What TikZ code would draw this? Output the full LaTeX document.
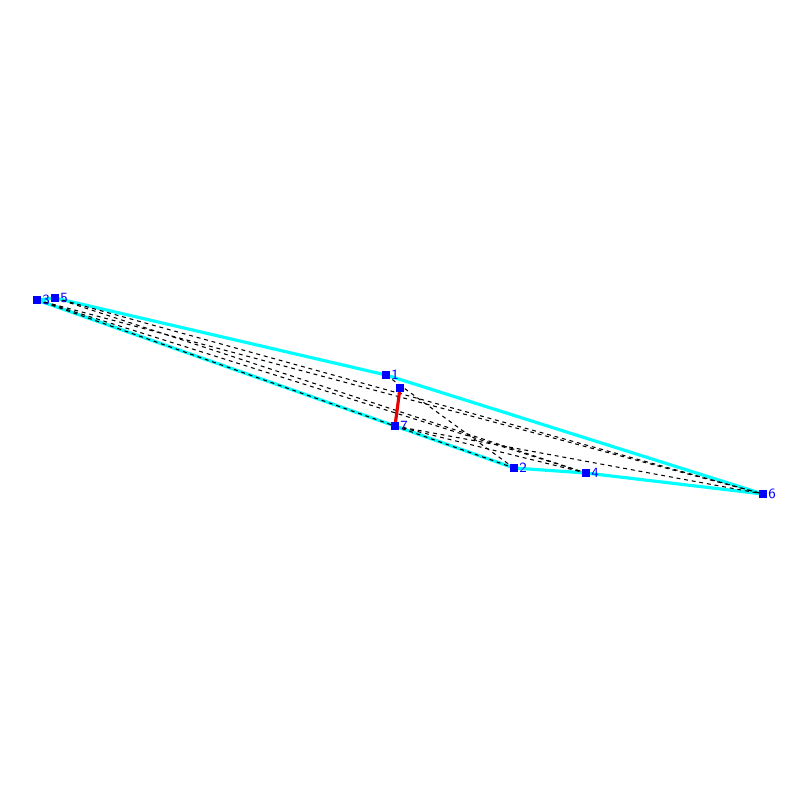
\documentclass[tikz,border=0pt]{standalone}
\usetikzlibrary{positioning,backgrounds}
\definecolor{hullColor}{RGB}{0,255,255}
\definecolor{ptColor}{RGB}{0,0,255}
\definecolor{constrColor}{RGB}{230,0,0}
\tikzset{
	vtx/.style={fill=ptColor, draw=none, minimum size=2pt, inner sep=0pt, outer sep=0pt},
	lab/.style={text=ptColor, font=\fontsize{4}{4}\selectfont\sffamily, inner sep=0.3pt, anchor=west},
	hull/.style={hullColor, line width=0.9pt},
	constr/.style={constrColor, line width=0.9pt},
	chord/.style={black, line width=0.3pt, dash pattern=on 1.1pt off 1.1pt}
}
\begin{document}
\begin{tikzpicture}[x=0.01cm, y=-0.01cm]
	\useasboundingbox (0,0) rectangle (800,800);
	\node[vtx] (p0) at (400,388) {};
	\node[vtx] (p1) at (386,375) {};
	\node[vtx] (p2) at (514,468) {};
	\node[vtx] (p3) at (37,300) {};
	\node[vtx] (p4) at (586,473) {};
	\node[vtx] (p5) at (55,298) {};
	\node[vtx] (p6) at (763,494) {};
	\node[vtx] (p7) at (395,426) {};
	\node[lab, right=0pt of p1] (l1) {1};
	\node[lab, right=0pt of p2] (l2) {2};
	\node[lab, right=0pt of p3] (l3) {3};
	\node[lab, right=0pt of p4] (l4) {4};
	\node[lab, right=0pt of p5] (l5) {5};
	\node[lab, right=0pt of p6] (l6) {6};
	\node[lab, right=0pt of p7] (l7) {7};
	\begin{scope}[on background layer]
		\draw[hull] (p3.center) -- (p5.center) -- (p1.center) -- (p6.center)
			-- (p4.center) -- (p2.center) -- (p7.center) -- (p3.center);
		\draw[chord] (p5.center) -- (p6.center);
		\draw[chord] (p3.center) -- (p6.center);
		\draw[chord] (p5.center) -- (p4.center);
		\draw[chord] (p3.center) -- (p4.center);
		\draw[chord] (p3.center) -- (p2.center);
		\draw[chord] (p1.center) -- (p2.center);
		\draw[chord] (p7.center) -- (p6.center);
		\draw[chord] (p7.center) -- (p4.center);
		\draw[constr] (p0.center) -- (p7.center);
	\end{scope}
\end{tikzpicture}
\end{document}
